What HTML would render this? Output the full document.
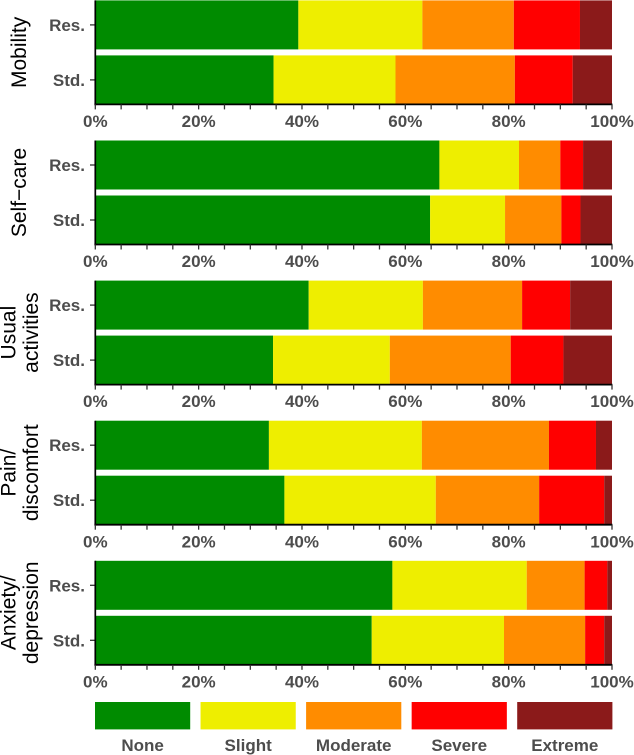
<!DOCTYPE html>
<html>
<head>
<meta charset="utf-8">
<style>
html,body{margin:0;padding:0;background:#fff;width:634px;height:755px;overflow:hidden}
svg{display:block}
text{font-family:"Liberation Sans",sans-serif}
</style>
</head>
<body>
<svg id="chart" xmlns="http://www.w3.org/2000/svg" width="634" height="755" viewBox="0 0 634 755"></svg>
<script>
const dimensions = [["Mobility"], ["Self\u2212care"], ["Usual", "activities"], ["Pain/", "discomfort"], ["Anxiety/", "depression"]];
const groups = ["Res.", "Std."];
const levels = ["None", "Slight", "Moderate", "Severe", "Extreme"];
const levelColors = ["#008b00", "#eeee00", "#ff8c00", "#ff0000", "#8b1a1a"];
const xTickLabels = ["0%", "20%", "40%", "60%", "80%", "100%"];
const xTickValues = [0, 20, 40, 60, 80, 100];
const xMinorTicks = [0, 5, 10, 15, 20, 25, 30, 35, 40, 45, 50, 55, 60, 65, 70, 75, 80, 85, 90, 95, 100];

const mobilityRes = [39.3, 24.0, 17.7, 12.8, 6.2];
const mobilityStd = [34.5, 23.6, 23.1, 11.2, 7.6];
const selfCareRes = [66.6, 15.4, 8.0, 4.4, 5.6];
const selfCareStd = [64.8, 14.5, 10.9, 3.7, 6.1];
const usualRes = [41.3, 22.1, 19.2, 9.3, 8.1];
const usualStd = [34.4, 22.6, 23.4, 10.2, 9.4];
const painRes = [33.6, 29.6, 24.6, 9.1, 3.1];
const painStd = [36.6, 29.3, 20.0, 12.6, 1.5];
const anxietyRes = [57.5, 26.0, 11.2, 4.4, 0.9];
const anxietyStd = [53.5, 25.6, 15.7, 3.7, 1.5];
const seriesByDimension = [
  [mobilityRes, mobilityStd],
  [selfCareRes, selfCareStd],
  [usualRes, usualStd],
  [painRes, painStd],
  [anxietyRes, anxietyStd]
];

const NS = "http://www.w3.org/2000/svg";
const svg = document.getElementById("chart");
const X0 = 95.3, XW = 516.7;
const PANEL0 = 0.4, PANEL_STEP = 140.1;
const BAR_H = 49, BAND_STEP = 55;
const AXIS_OFFSET = 104;
const xScale = v => X0 + v / 100 * XW;
const panelTop = i => PANEL0 + i * PANEL_STEP;
const bandTop = (i, g) => panelTop(i) + g * BAND_STEP;
const slug = s => s.toLowerCase().replace(/[^a-z0-9]+/g, "-").replace(/-$/, "");

function make(tag, attrs, parent) {
  const el = document.createElementNS(NS, tag);
  for (const k in attrs) el.setAttribute(k, attrs[k]);
  parent.appendChild(el);
  return el;
}

dimensions.forEach((titleLines, d) => {
  const name = slug(titleLines.join(" ").replace("\u2212", "-"));
  const panel = make("g", {}, svg);
  
  

  groups.forEach((group, g) => {
    let cum = 0;
    levels.forEach((level, l) => {
      const v = seriesByDimension[d][g][l];
      const rect = make("rect", {
        x: xScale(cum), y: bandTop(d, g),
        width: xScale(cum + v) - xScale(cum), height: BAR_H,
        fill: levelColors[l]
      }, panel);
      
      
      cum += v;
    });
    const cy = bandTop(d, g) + BAR_H / 2;
    const yTick = make("line", { x1: 90, x2: 95, y1: cy, y2: cy, stroke: "#333", "stroke-width": 1.3 }, panel);
    
    
    const yLabel = make("text", { x: 85, y: cy + 6, "text-anchor": "end", "font-size": 17, "font-weight": "bold", fill: "#4d4d4d" }, panel);
    yLabel.textContent = group;
    
    
  });

  const axisY = panelTop(d) + AXIS_OFFSET;
  const xAxis = make("line", { x1: X0 - 0.9, x2: xScale(100) + 0.4, y1: axisY, y2: axisY, stroke: "#000", "stroke-width": 1.8 }, panel);
  
  
  const yAxis = make("line", { x1: X0, x2: X0, y1: panelTop(d), y2: axisY + 0.9, stroke: "#000", "stroke-width": 1.7 }, panel);
  
  

  xMinorTicks.forEach(t => {
    const tick = make("line", { x1: xScale(t), x2: xScale(t), y1: axisY, y2: axisY + 5, stroke: "#333", "stroke-width": 1.3 }, panel);
    
    
  });
  xTickValues.forEach((t, i) => {
    const label = make("text", { x: xScale(t), y: axisY + 22.6, "text-anchor": "middle", "font-size": 17, "font-weight": "bold", fill: "#4d4d4d" }, panel);
    label.textContent = xTickLabels[i];
    
    
  });

  const titleY = panelTop(d) + 52;
  const baselines = titleLines.length === 1 ? [26] : [15.5, 38];
  titleLines.forEach((line, i) => {
    const title = make("text", {
      transform: "translate(" + baselines[i] + "," + titleY + ") rotate(-90)",
      "text-anchor": "middle", "font-size": 21, fill: "#000"
    }, panel);
    title.textContent = line;
    
    
  });
});

const legend = make("g", {}, svg);


const LEG_W = 95.2, LEG_STEP = 105.55;
levels.forEach((level, l) => {
  const sx = 95 + l * LEG_STEP;
  const swatch = make("rect", { x: sx, y: 702, width: LEG_W, height: 27.4, fill: levelColors[l] }, legend);
  
  
  const label = make("text", { x: sx + LEG_W / 2, y: 751, "text-anchor": "middle", "font-size": 17, "font-weight": "bold", fill: "#4d4d4d" }, legend);
  label.textContent = level;
  
  
});
</script>
</body>
</html>
